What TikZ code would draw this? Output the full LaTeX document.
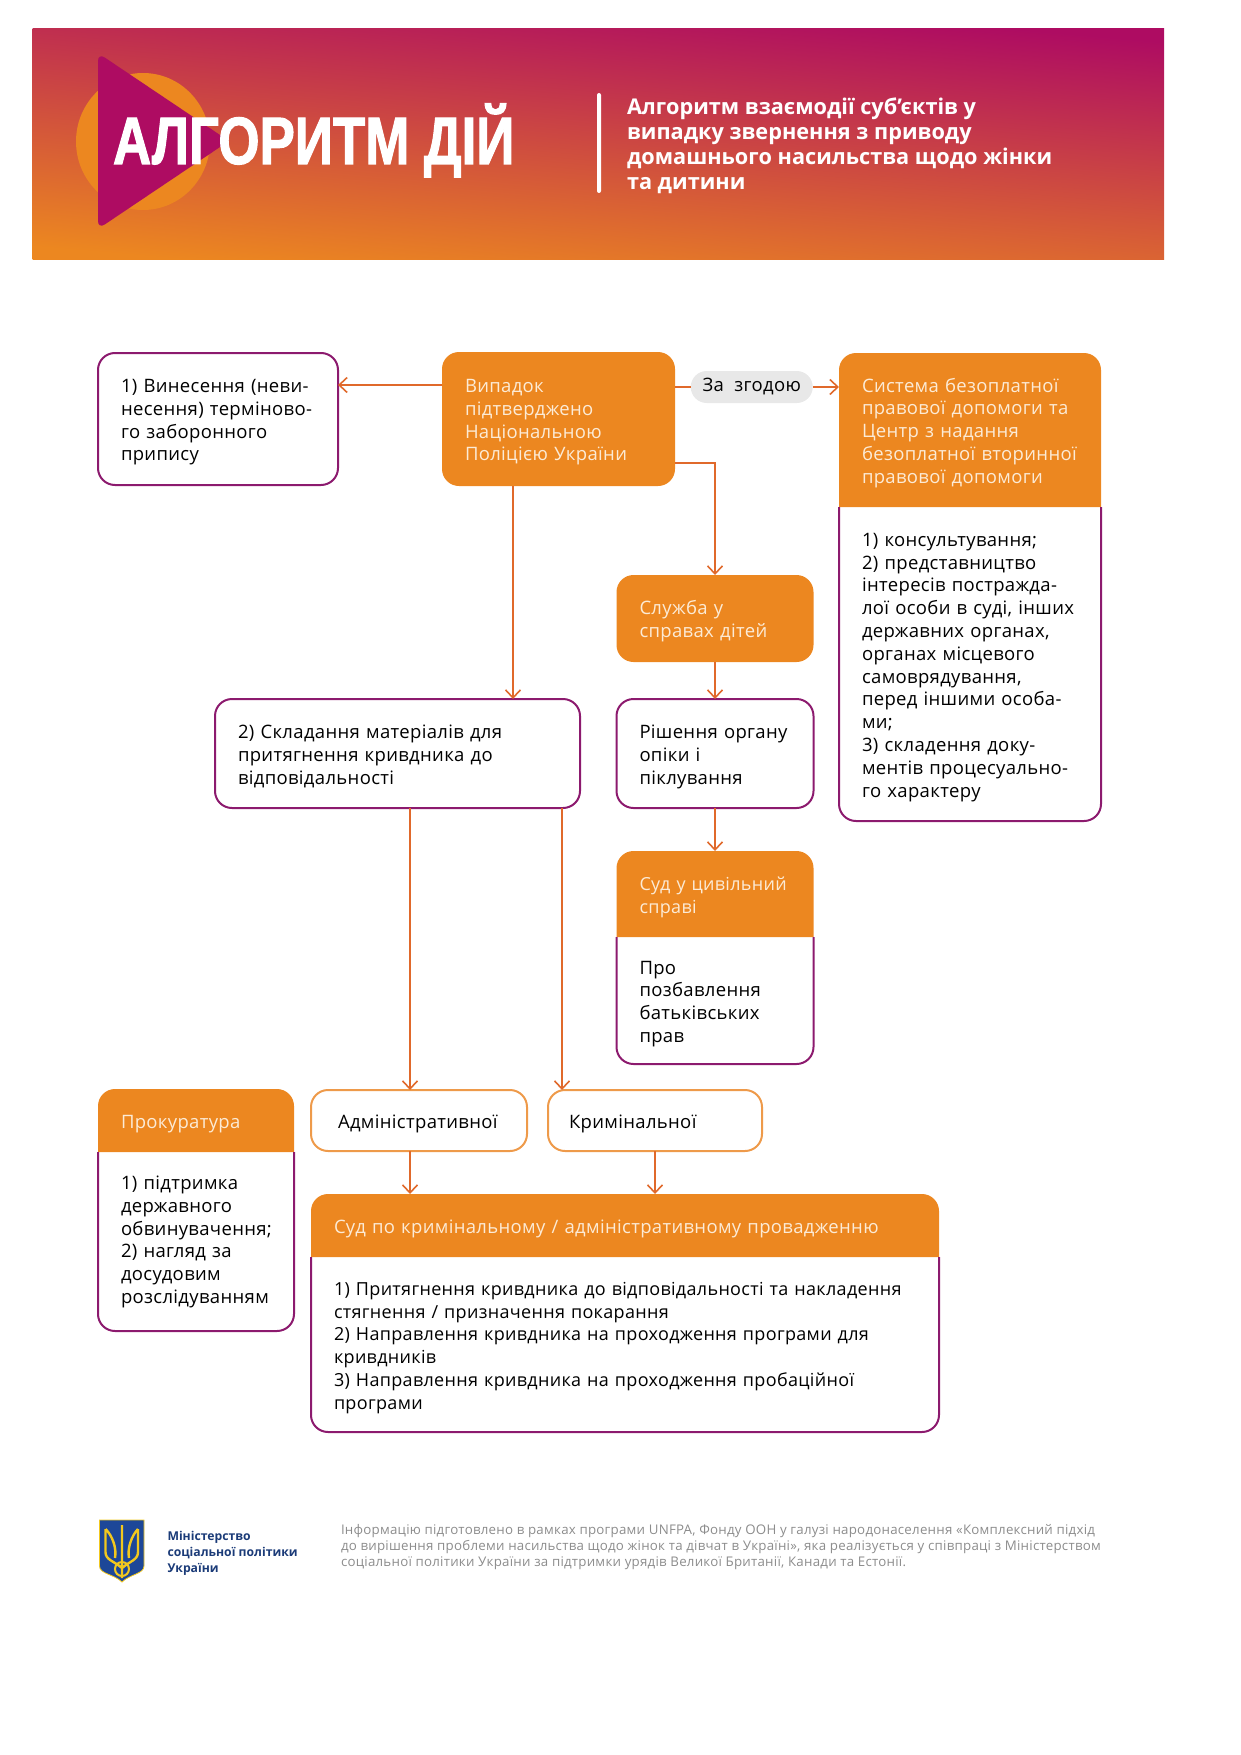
\documentclass[tikz,border=0pt]{standalone}
\usepackage{fontspec}
\setmainfont[LetterSpace=1.8]{Open Sans}
\newfontfamily\bannerfont[FakeStretch=0.79,FakeBold=1.5]{Liberation Sans Bold}
\newfontfamily\subtitlefont{Open Sans Bold}
\newfontfamily\ministryfont{Open Sans Bold}
\usetikzlibrary{arrows.meta,backgrounds}
\definecolor{boxorange}{HTML}{EC8720}
\definecolor{boxpurple}{HTML}{8C1A6E}
\definecolor{linkorange}{HTML}{E0692B}
\definecolor{softorange}{HTML}{EE9A4A}
\definecolor{headtext}{HTML}{FCEBD6}
\definecolor{pillgray}{HTML}{E8E8E8}
\definecolor{navy}{HTML}{1B3B78}
\definecolor{shieldblue}{HTML}{1D4798}
\definecolor{shieldgold}{HTML}{F2C81E}
\definecolor{bannerred}{HTML}{C94456}
\definecolor{bannermag}{HTML}{AE0C62}
\tikzset{every node/.style={outer sep=0pt,inner xsep=23pt,inner ysep=0pt,align=left}}
\tikzset{every edge/.style={draw=linkorange,line width=1.6pt}}
\tikzset{tip/.style={-{Straight Barb[length=8pt,width=15pt,line width=1.6pt]}}}
\tikzset{txt/.style={font=\fontsize{18.5}{22.8}\selectfont,execute at begin node={\rule{0pt}{20pt}}}}
\tikzset{tighter/.style={font=\fontsize{18}{22.8}\selectfont}}
\tikzset{outline/.style={txt,draw=boxpurple,line width=2pt,rounded corners=17pt,text=black}}
\tikzset{softline/.style={outline,draw=softorange}}
\tikzset{solid box/.style={txt,fill=boxorange,rounded corners=17pt,text=headtext}}
\tikzset{top part/.style={txt,text=headtext}}
\tikzset{low part/.style={txt,text=black}}
% orange top with a purple frame under it
\newcommand{\twopart}[2]{
  \begin{scope}[on background layer]
    \fill[boxorange] (#1.south west) [rounded corners=17pt] -- (#1.north west) -- (#1.north east) [sharp corners] -- (#1.south east) -- cycle;
  \end{scope}
  \draw[boxpurple,line width=2pt,rounded corners=17pt] (#2.north west) -- (#2.south west) -- (#2.south east) -- (#2.north east);
}

\begin{document}
\begin{tikzpicture}[x=1pt,y=1pt,node distance=100pt]
  \useasboundingbox (0,0) rectangle (1240,-1755);

  % banner
  \shade[bottom color=boxorange,middle color=bannerred,top color=bannermag,shading angle=-5] (32.5,-29) rectangle (1164,-259);
  \fill[boxorange] (143,-141.5) ellipse (67pt and 68.5pt);
  \fill[bannermag,rounded corners=8pt] (98,-53) -- (98,-229) -- (229,-141) -- cycle;
  \fill[white,rounded corners=2pt] (597,-93) rectangle (601,-193);
  \node (Title) [anchor=base west,inner xsep=0pt,text=white,font=\bannerfont\fontsize{67}{67}\selectfont] at (113,-164) {АЛГОРИТМ ДІЙ};
  \node (Subtitle) [anchor=north west,inner xsep=0pt,text=white,font=\subtitlefont\fontsize{21.7}{25}\selectfont] at (627,-98) {Алгоритм взаємодії суб’єктів у\\випадку звернення з приводу\\домашнього насильства щодо жінки\\та дитини};

  % upper row
  \node (Notice) [outline,minimum width=240pt,minimum height=132pt,text width=194pt] at (218,-419) {1) Винесення (неви-\\несення) терміново-\\го заборонного\\припису};
  \node (Case) [solid box,minimum width=233pt,minimum height=134pt,text width=187pt,node distance=340.5pt,right of=Notice] {Випадок\\підтверджено\\Національною\\Поліцією України};
  \node (Consent) [font=\fontsize{18.5}{22.8}\selectfont,fill=pillgray,rounded corners=16pt,inner xsep=0pt,minimum width=122pt,minimum height=32pt,align=center,node distance=193.25pt,right of=Case,yshift=32pt] {За\ \ згодою};

  \node (SysHead) [top part,minimum width=262pt,minimum height=154pt,text width=216pt,node distance=411.5pt,right of=Case,yshift=-11pt] {Система безоплатної\\правової допомоги та\\Центр з надання\\безоплатної вторинної\\правової допомоги};
  \node (SysBody) [low part,minimum width=262pt,minimum height=314pt,text width=216pt,node distance=234pt,below of=SysHead] {1) консультування;\\2) представництво\\інтересів постражда-\\лої особи в суді, інших\\державних органах,\\органах місцевого\\самоврядування,\\перед іншими особа-\\ми;\\3) складення доку-\\ментів процесуально-\\го характеру};

  % middle column
  \node (Service) [solid box,minimum width=197pt,minimum height=87pt,text width=151pt,node distance=199.5pt,below of=Case,xshift=156.5pt] {Служба у\\справах дітей};
  \node (Decision) [outline,minimum width=197pt,minimum height=109pt,text width=151pt,node distance=135pt,below of=Service] {Рішення органу\\опіки і\\піклування};
  \node (Material) [outline,minimum width=365pt,minimum height=109pt,text width=319pt,node distance=317.5pt,left of=Decision] {2) Складання матеріалів для\\притягнення кривдника до\\відповідальності};
  \node (CivilHead) [top part,tighter,minimum width=197pt,minimum height=86pt,text width=151pt,node distance=140.5pt,below of=Decision] {Суд у цивільний\\справі};
  \node (CivilBody) [low part,minimum width=197pt,minimum height=127pt,text width=151pt,node distance=106.5pt,below of=CivilHead] {Про\\позбавлення\\батьківських\\прав};

  % lower rows
  \node (Adm) [softline,inner xsep=27pt,minimum width=216pt,minimum height=61pt,text width=162pt,node distance=367pt,below of=Material,xshift=21.5pt] {Адміністративної};
  \node (Crim) [softline,inner xsep=21pt,minimum width=214pt,minimum height=61pt,text width=172pt,node distance=236pt,right of=Adm] {Кримінальної};
  \node (ProsHead) [top part,minimum width=196pt,minimum height=63pt,text width=150pt,node distance=223pt,left of=Adm] {Прокуратура};
  \node (ProsBody) [low part,minimum width=196pt,minimum height=179pt,text width=150pt,node distance=121pt,below of=ProsHead] {1) підтримка\\державного\\обвинувачення;\\2) нагляд за\\досудовим\\розслідуванням\rule[-10pt]{0pt}{10pt}};
  \node (CourtHead) [top part,minimum width=628pt,minimum height=63pt,text width=582pt,node distance=105pt,below of=Crim,xshift=-30pt] {Суд по кримінальному / адміністративному провадженню};
  \node (CourtBody) [low part,tighter,minimum width=628pt,minimum height=175pt,text width=582pt,node distance=119pt,below of=CourtHead] {1) Притягнення кривдника до відповідальності та накладення\\стягнення / призначення покарання\\2) Направлення кривдника на проходження програми для\\кривдників\\3) Направлення кривдника на проходження пробаційної\\програми};

  \twopart{SysHead}{SysBody}
  \twopart{CivilHead}{CivilBody}
  \twopart{ProsHead}{ProsBody}
  \twopart{CourtHead}{CourtBody}

  % connectors
  \path ([yshift=34pt]Case.west) edge[tip] ([yshift=34pt]Notice.east);
  \path ([yshift=32pt]Case.east) edge (Consent);
  \path (Consent) edge[tip] ([yshift=43pt]SysHead.west);
  \draw[draw=linkorange,line width=1.6pt,tip] ([yshift=-44pt]Case.east) -| (Service);
  \path ([xshift=-45.5pt]Case.south) edge[tip] ([xshift=115.5pt]Material.north);
  \path (Service) edge[tip] (Decision);
  \path (Decision) edge[tip] (CivilHead);
  \path ([xshift=12.5pt]Material.south) edge[tip] ([xshift=-9pt]Adm.north);
  \path ([xshift=164.5pt]Material.south) edge[tip] ([xshift=-93pt]Crim.north);
  \path ([xshift=-9pt]Adm.south) edge[tip] ([xshift=-215pt]CourtHead.north);
  \path (Crim.south) edge[tip] ([xshift=30pt]CourtHead.north);

  % footer
  \fill[shieldblue,draw=shieldgold,line width=.8pt] (99.5,-1520) -- (144,-1520) -- (144,-1566) .. controls (144,-1574) and (130,-1574) .. (122,-1582) .. controls (114,-1574) and (99.5,-1574) .. (99.5,-1566) -- cycle;
  \draw[shieldgold,line width=2.4pt,line join=round] (122,-1525) -- (122,-1578)
    (105.5,-1529) -- (105.5,-1552) .. controls (105.5,-1560) and (114,-1561) .. (122,-1568) .. controls (130,-1561) and (138,-1560) .. (138,-1552) -- (138,-1529)
    (105.5,-1529) .. controls (112,-1535) and (117,-1548) .. (115,-1558) (138,-1529) .. controls (132,-1535) and (127,-1548) .. (129,-1558);
  \draw[shieldgold,line width=2pt] (122,-1569) circle (7pt);
  \node (Ministry) [anchor=north west,inner xsep=0pt,text=navy,font=\ministryfont\fontsize{12.2}{16}\selectfont] at (167.5,-1531) {Міністерство\\соціальної політики\\України};
  \node (Info) [anchor=north west,inner xsep=0pt,text=black!45,font=\fontsize{13.3}{16}\selectfont] at (341,-1524) {Інформацію підготовлено в рамках програми UNFPA, Фонду ООН у галузі народонаселення «Комплексний підхід\\до вирішення проблеми насильства щодо жінок та дівчат в Україні», яка реалізується у співпраці з Міністерством\\соціальної політики України за підтримки урядів Великої Британії, Канади та Естонії.};
\end{tikzpicture}
\end{document}
